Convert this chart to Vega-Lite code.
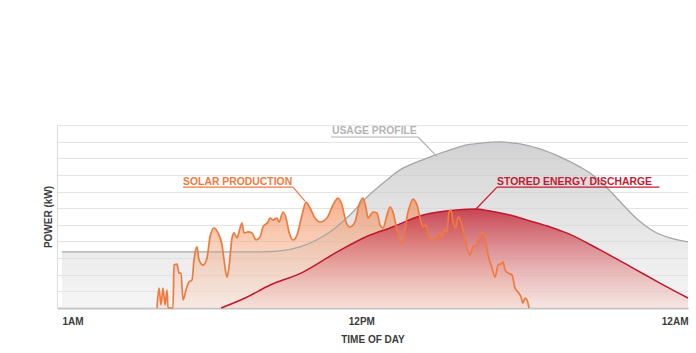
{
  "$schema": "https://vega.github.io/schema/vega-lite/v6.json",
  "autosize": "none",
  "width": 631,
  "height": 183,
  "padding": {"left": 57, "top": 125, "right": 8, "bottom": 45},
  "background": "white",
  "config": {
    "view": {"stroke": null},
    "font": "Liberation Sans"
  },
  "datasets": {
    "usage": [
      {"h": 1.0, "v": 3.37}, {"h": 4.0, "v": 3.37}, {"h": 8.28, "v": 3.37}, {"h": 9.01, "v": 3.43},
      {"h": 9.75, "v": 3.67}, {"h": 10.37, "v": 4.1}, {"h": 11.03, "v": 4.8}, {"h": 11.58, "v": 5.59},
      {"h": 12.21, "v": 6.67}, {"h": 12.8, "v": 7.51}, {"h": 13.42, "v": 8.3}, {"h": 14.05, "v": 8.78},
      {"h": 14.63, "v": 9.14}, {"h": 15.26, "v": 9.5}, {"h": 15.88, "v": 9.8}, {"h": 16.47, "v": 9.92},
      {"h": 17.1, "v": 9.98}, {"h": 17.83, "v": 9.86}, {"h": 18.56, "v": 9.56}, {"h": 19.3, "v": 9.08},
      {"h": 20.03, "v": 8.48}, {"h": 20.4, "v": 8.11}, {"h": 20.77, "v": 7.63}, {"h": 21.21, "v": 6.91},
      {"h": 21.69, "v": 6.07}, {"h": 22.17, "v": 5.29}, {"h": 22.72, "v": 4.63}, {"h": 23.34, "v": 4.21},
      {"h": 24.0, "v": 3.97}
    ],
    "stored": [
      {"h": 6.85, "v": 0.0}, {"h": 7.73, "v": 0.6}, {"h": 8.65, "v": 1.38}, {"h": 9.86, "v": 2.16},
      {"h": 11.11, "v": 3.37}, {"h": 12.32, "v": 4.39}, {"h": 13.05, "v": 4.81}, {"h": 14.27, "v": 5.59},
      {"h": 15.52, "v": 5.89}, {"h": 16.18, "v": 5.95}, {"h": 16.73, "v": 5.83}, {"h": 17.46, "v": 5.59},
      {"h": 18.2, "v": 5.23}, {"h": 18.93, "v": 4.87}, {"h": 19.56, "v": 4.5}, {"h": 20.77, "v": 3.49},
      {"h": 21.98, "v": 2.4}, {"h": 22.97, "v": 1.5}, {"h": 24.0, "v": 0.6}
    ],
    "solar": [
      {"h": 4.494, "v": 0}, {"h": 4.567, "v": 1.2}, {"h": 4.641, "v": 0.18}, {"h": 4.714, "v": 1.2},
      {"h": 4.788, "v": 0.18}, {"h": 4.861, "v": 1.08}, {"h": 4.898, "v": 0}, {"h": 5.082, "v": 0},
      {"h": 5.118, "v": 2.58}, {"h": 5.229, "v": 2.64}, {"h": 5.302, "v": 2.1}, {"h": 5.376, "v": 2.1},
      {"h": 5.449, "v": 0.48}, {"h": 5.559, "v": 1.08}, {"h": 5.669, "v": 1.56}, {"h": 5.78, "v": 1.68},
      {"h": 5.853, "v": 2.89}, {"h": 5.963, "v": 3.67}, {"h": 6.037, "v": 2.89}, {"h": 6.184, "v": 2.58},
      {"h": 6.331, "v": 3.01}, {"h": 6.441, "v": 4.27}, {"h": 6.588, "v": 4.81}, {"h": 6.735, "v": 4.51},
      {"h": 6.882, "v": 3.79}, {"h": 6.955, "v": 2.89}, {"h": 7.065, "v": 1.86}, {"h": 7.139, "v": 2.46},
      {"h": 7.249, "v": 4.21}, {"h": 7.323, "v": 4.51}, {"h": 7.433, "v": 4.21}, {"h": 7.506, "v": 4.57},
      {"h": 7.616, "v": 5.11}, {"h": 7.69, "v": 4.51}, {"h": 7.837, "v": 4.57}, {"h": 7.984, "v": 4.51},
      {"h": 8.131, "v": 4.09}, {"h": 8.278, "v": 4.27}, {"h": 8.388, "v": 4.87}, {"h": 8.572, "v": 5.17},
      {"h": 8.645, "v": 5.41}, {"h": 8.755, "v": 5.29}, {"h": 8.902, "v": 5.41}, {"h": 8.976, "v": 5.17},
      {"h": 9.123, "v": 5.77}, {"h": 9.233, "v": 5.41}, {"h": 9.343, "v": 4.57}, {"h": 9.49, "v": 4.09},
      {"h": 9.637, "v": 4.39}, {"h": 9.821, "v": 5.59}, {"h": 9.968, "v": 6.37}, {"h": 10.115, "v": 6.01},
      {"h": 10.298, "v": 5.41}, {"h": 10.482, "v": 5.17}, {"h": 10.739, "v": 5.41}, {"h": 10.96, "v": 6.19},
      {"h": 11.143, "v": 6.61}, {"h": 11.29, "v": 6.19}, {"h": 11.437, "v": 5.17}, {"h": 11.584, "v": 4.87},
      {"h": 11.768, "v": 5.17}, {"h": 11.915, "v": 6.19}, {"h": 12.062, "v": 6.61}, {"h": 12.172, "v": 6.01},
      {"h": 12.245, "v": 5.41}, {"h": 12.429, "v": 5.77}, {"h": 12.576, "v": 5.71}, {"h": 12.686, "v": 4.99},
      {"h": 12.796, "v": 4.81}, {"h": 12.943, "v": 5.59}, {"h": 13.053, "v": 6.07}, {"h": 13.164, "v": 5.77},
      {"h": 13.311, "v": 4.69}, {"h": 13.494, "v": 3.91}, {"h": 13.715, "v": 5.77}, {"h": 13.899, "v": 6.55},
      {"h": 14.046, "v": 6.19}, {"h": 14.193, "v": 5.17}, {"h": 14.266, "v": 4.87}, {"h": 14.376, "v": 4.99},
      {"h": 14.45, "v": 4.39}, {"h": 14.597, "v": 4.09}, {"h": 14.78, "v": 4.21}, {"h": 14.854, "v": 4.51},
      {"h": 14.964, "v": 4.27}, {"h": 15.074, "v": 4.69}, {"h": 15.147, "v": 4.57}, {"h": 15.221, "v": 5.77},
      {"h": 15.295, "v": 5.89}, {"h": 15.368, "v": 5.17}, {"h": 15.478, "v": 4.81}, {"h": 15.552, "v": 5.47},
      {"h": 15.662, "v": 5.17}, {"h": 15.772, "v": 4.39}, {"h": 15.882, "v": 3.61}, {"h": 15.992, "v": 3.19},
      {"h": 16.103, "v": 3.67}, {"h": 16.25, "v": 3.79}, {"h": 16.323, "v": 4.21}, {"h": 16.47, "v": 4.51},
      {"h": 16.543, "v": 4.21}, {"h": 16.654, "v": 3.19}, {"h": 16.801, "v": 2.4}, {"h": 16.911, "v": 1.86},
      {"h": 17.021, "v": 2.58}, {"h": 17.168, "v": 2.7}, {"h": 17.205, "v": 2.77}, {"h": 17.278, "v": 2.28},
      {"h": 17.389, "v": 2.1}, {"h": 17.535, "v": 1.98}, {"h": 17.646, "v": 1.2}, {"h": 17.756, "v": 0.96},
      {"h": 17.866, "v": 0.66}, {"h": 17.94, "v": 0.3}, {"h": 18.013, "v": 0.6}, {"h": 18.087, "v": 0.48},
      {"h": 18.16, "v": 0}
    ],
    "notes": [
      {"h": 10.92, "v": 10.64, "label": "USAGE PROFILE", "series": "usage"},
      {"h": 5.45, "v": 7.57, "label": "SOLAR PRODUCTION", "series": "solar"},
      {"h": 16.985, "v": 7.57, "label": "STORED ENERGY DISCHARGE", "series": "stored"}
    ],
    "segments": [
      {"h": 10.886, "v": 10.28, "h2": 14.082, "v2": 10.28, "series": "usage"},
      {"h": 14.082, "v": 10.28, "h2": 14.78, "v2": 9.1, "series": "usage"},
      {"h": 5.449, "v": 7.27, "h2": 9.49, "v2": 7.27, "series": "solar"},
      {"h": 9.49, "v": 7.27, "h2": 9.93, "v2": 6.43, "series": "solar"},
      {"h": 16.985, "v": 7.27, "h2": 22.95, "v2": 7.27, "series": "stored"},
      {"h": 16.985, "v": 7.27, "h2": 16.213, "v2": 5.95, "series": "stored"}
    ]
  },
  "encoding": {
    "x": {"field": "h", "type": "quantitative", "scale": {"domain": [0.82, 24], "nice": false, "zero": false},
      "axis": {"values": [1, 12, 24], "grid": false, "ticks": false, "domain": true, "domainColor": "#c4c4c4", "domainWidth": 2,
        "labelExpr": "datum.value == 1 ? '1AM' : datum.value == 12 ? '12PM' : '12AM'",
        "labelAlign": {"condition": [{"test": "datum.value == 1", "value": "left"}, {"test": "datum.value == 24", "value": "right"}], "value": "center"},
        "labelFont": "Liberation Sans", "labelFontWeight": "bold", "labelFontSize": 10, "labelColor": "#3c3c3c", "labelPadding": 8,
        "title": "TIME OF DAY", "titleFont": "Liberation Sans", "titleFontWeight": "bold", "titleFontSize": 10, "titleColor": "#3c3c3c", "titlePadding": 8}},
    "y": {"field": "v", "type": "quantitative", "scale": {"domain": [0, 11], "nice": false},
      "axis": {"values": [0, 1, 2, 3, 4, 5, 6, 7, 8, 9, 10, 11], "labels": false, "ticks": false, "grid": true, "gridColor": "#e4e4e4", "gridWidth": 1,
        "domain": true, "domainColor": "#dcdcdc", "domainWidth": 1,
        "title": "POWER (kW)", "titleFont": "Liberation Sans", "titleFontWeight": "bold", "titleFontSize": 10, "titleColor": "#3c3c3c", "titlePadding": 4}}
  },
  "layer": [
    {
      "data": {"name": "usage"},
      "mark": {
        "type": "area", "interpolate": "monotone",
        "color": {"gradient": "linear", "x1": 0, "y1": 0, "x2": 0, "y2": 1,
          "stops": [{"offset": 0, "color": "rgba(198,198,200,0.8)"}, {"offset": 1, "color": "rgba(232,232,232,0.45)"}]}
      }
    },
    {
      "data": {"name": "solar"},
      "mark": {
        "type": "area", "interpolate": "monotone",
        "color": {"gradient": "linear", "x1": 0, "y1": 0, "x2": 0, "y2": 1,
          "stops": [{"offset": 0, "color": "rgba(242,128,70,0.62)"}, {"offset": 1, "color": "rgba(248,215,198,0.4)"}]}
      }
    },
    {
      "data": {"name": "stored"},
      "mark": {
        "type": "area", "interpolate": "monotone",
        "color": {"gradient": "linear", "x1": 0, "y1": 0, "x2": 0, "y2": 1,
          "stops": [{"offset": 0, "color": "rgba(196,40,55,0.85)"}, {"offset": 1, "color": "rgba(246,214,206,0.5)"}]}
      }
    },
    {
      "data": {"name": "usage"},
      "mark": {"type": "line", "interpolate": "monotone", "color": "#a6a6a6", "strokeWidth": 1.3}
    },
    {
      "data": {"name": "stored"},
      "mark": {"type": "line", "interpolate": "monotone", "color": "#c0182e", "strokeWidth": 1.5}
    },
    {
      "data": {"name": "solar"},
      "mark": {"type": "line", "interpolate": "monotone", "color": "#f07a3e", "strokeWidth": 1.7}
    },
    {
      "data": {"name": "segments"},
      "mark": {"type": "rule", "strokeWidth": 1.2},
      "encoding": {
        "x2": {"field": "h2"},
        "y2": {"field": "v2"},
        "color": {"field": "series", "type": "nominal", "legend": null,
          "scale": {"domain": ["usage", "solar", "stored"], "range": ["#b4b4b4", "#f07a3e", "#c41a32"]}}
      }
    },
    {
      "data": {"name": "notes"},
      "mark": {"type": "text", "align": "left", "baseline": "middle", "font": "Liberation Sans", "fontWeight": "bold", "fontSize": 10.4},
      "encoding": {
        "text": {"field": "label"},
        "color": {"field": "series", "type": "nominal", "legend": null,
          "scale": {"domain": ["usage", "solar", "stored"], "range": ["#b4b4b4", "#f07a3e", "#c41a32"]}}
      }
    }
  ]
}
